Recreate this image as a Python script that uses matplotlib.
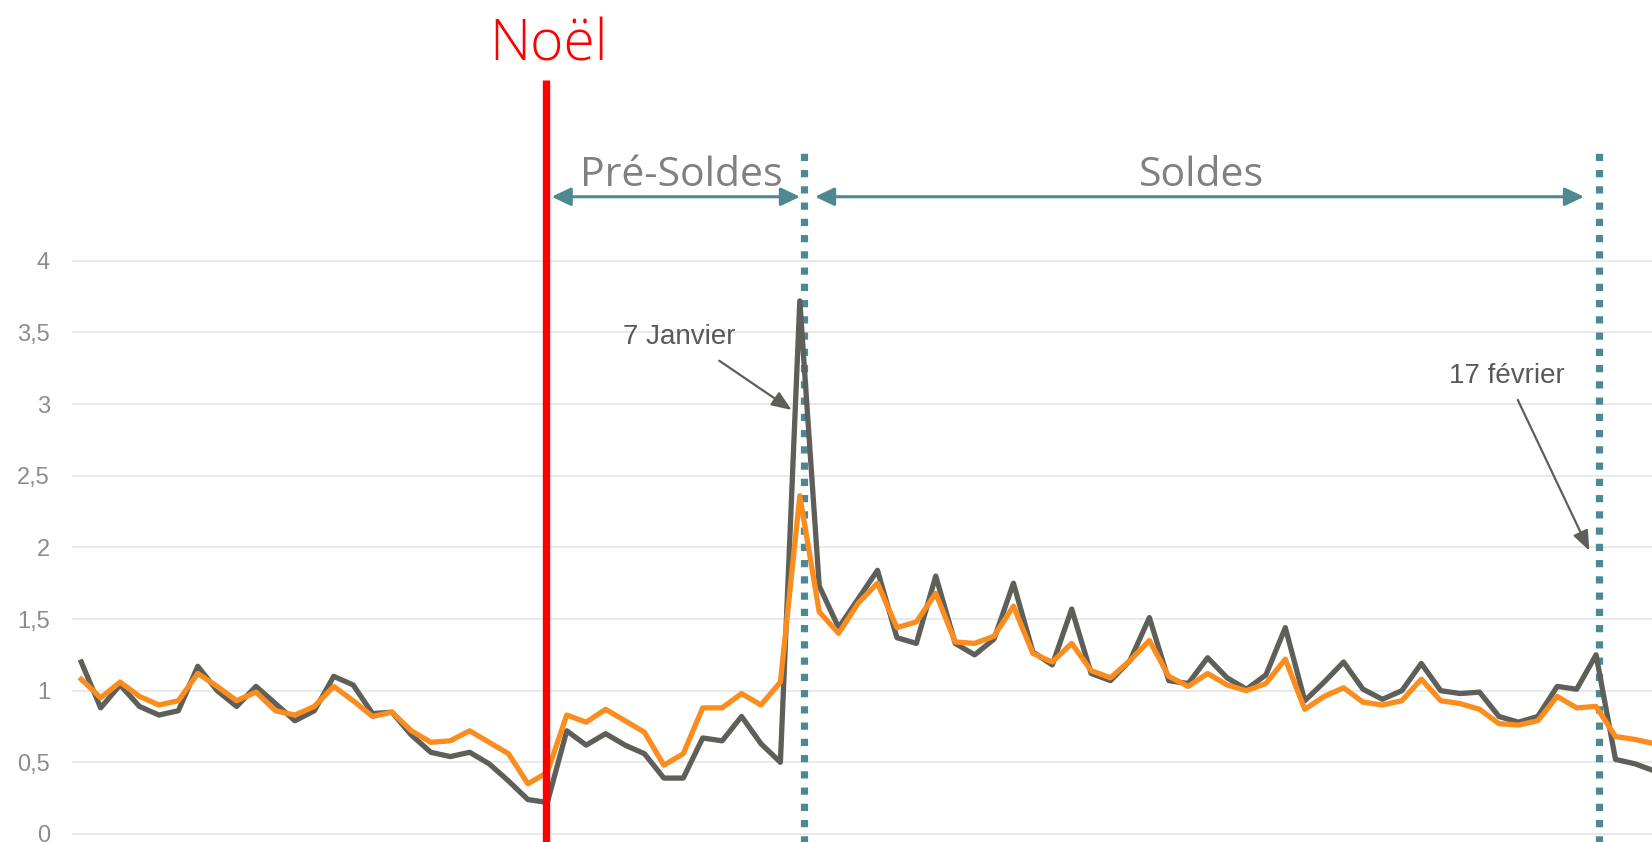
import matplotlib.pyplot as plt
import numpy as np

# Daily index, two series (index 24 = Noël, 37 = 7 janvier, 78 = 17 février)
serie_grise = [
    1.20, 0.88, 1.04, 0.89, 0.83, 0.86, 1.17, 1.00, 0.89, 1.03,
    0.91, 0.79, 0.86, 1.10, 1.04, 0.84, 0.85, 0.69, 0.57, 0.54,
    0.57, 0.49, 0.37, 0.24, 0.22, 0.72, 0.62, 0.70, 0.62, 0.56,
    0.39, 0.39, 0.67, 0.65, 0.82, 0.63, 0.50, 3.72, 1.73, 1.44,
    1.64, 1.84, 1.37, 1.33, 1.80, 1.33, 1.25, 1.36, 1.75, 1.27,
    1.18, 1.57, 1.12, 1.07, 1.21, 1.51, 1.07, 1.05, 1.23, 1.09,
    1.01, 1.11, 1.44, 0.93, 1.06, 1.20, 1.01, 0.94, 1.00, 1.19,
    1.00, 0.98, 0.99, 0.82, 0.78, 0.82, 1.03, 1.01, 1.25, 0.52,
    0.49, 0.44,
]
serie_orange = [
    1.08, 0.95, 1.06, 0.96, 0.90, 0.93, 1.12, 1.03, 0.93, 0.99,
    0.86, 0.83, 0.89, 1.03, 0.93, 0.82, 0.85, 0.72, 0.64, 0.65,
    0.72, 0.64, 0.56, 0.35, 0.43, 0.83, 0.78, 0.87, 0.79, 0.71,
    0.48, 0.56, 0.88, 0.88, 0.98, 0.90, 1.06, 2.36, 1.55, 1.40,
    1.61, 1.75, 1.44, 1.48, 1.68, 1.34, 1.33, 1.38, 1.59, 1.26,
    1.20, 1.33, 1.14, 1.09, 1.21, 1.35, 1.10, 1.03, 1.12, 1.04,
    1.00, 1.05, 1.22, 0.87, 0.96, 1.02, 0.92, 0.90, 0.93, 1.08,
    0.93, 0.91, 0.87, 0.77, 0.76, 0.79, 0.96, 0.88, 0.89, 0.68,
    0.66, 0.63,
]
y_ticks = [0, 0.5, 1, 1.5, 2, 2.5, 3, 3.5, 4]
y_tick_labels = ["0", "0,5", "1", "1,5", "2", "2,5", "3", "3,5", "4"]

# Key dates (position on the day axis)
jour_noel = 23.95
jour_debut_soldes = 37.2
jour_fin_soldes = 78.17

GRIS = "#5e5f59"
ORANGE = "#fb8d1e"
ROUGE = "#ff0000"
BLEU = "#4d8990"

fig = plt.figure(figsize=(16.52, 8.42), dpi=100)
ax = fig.add_axes([0.0433, 0.0, 0.9567, 1.0])

x = np.arange(len(serie_grise))

# period markers behind the data
for jour in (jour_debut_soldes, jour_fin_soldes):
    ax.plot([jour, jour], [-0.06, 4.76], color=BLEU, lw=5.2,
            dashes=(1.0, 1.25), solid_capstyle="butt", dash_capstyle="butt",
            zorder=1)

ax.plot(x, serie_grise, color=GRIS, lw=3.8, zorder=3)
ax.plot(x, serie_orange, color=ORANGE, lw=3.8, zorder=4)

# Christmas
ax.plot([jour_noel, jour_noel], [-0.06, 5.265], color=ROUGE, lw=5.3,
        solid_capstyle="butt", zorder=5)
ax.text(jour_noel + 0.1, 5.395, "Noël", color=ROUGE, fontsize=41,
        family="Open Sans", weight="light", ha="center", va="baseline")

# pre-sales / sales spans
fleche = dict(arrowstyle="<|-|>,head_length=0.4,head_width=0.19",
              mutation_scale=29, color=BLEU, lw=2.2,
              shrinkA=0, shrinkB=0)
ax.annotate("", xy=(24.22, 4.447), xytext=(37.01, 4.447), arrowprops=fleche)
ax.annotate("", xy=(37.78, 4.447), xytext=(77.38, 4.447), arrowprops=fleche)
ax.text(30.92, 4.524, "Pré-Soldes", color="#808080", fontsize=29.5,
        family="Open Sans", ha="center", va="baseline")
ax.text(57.66, 4.524, "Soldes", color="#808080", fontsize=29.5,
        family="Open Sans", ha="center", va="baseline")

# date callouts
pointe = dict(arrowstyle="-|>,head_length=0.55,head_width=0.22",
              mutation_scale=22, color=GRIS, lw=1.6, shrinkA=0, shrinkB=0)
ax.annotate("", xy=(36.58, 2.959), xytext=(32.85, 3.303), arrowprops=pointe)
ax.annotate("", xy=(77.65, 1.977), xytext=(73.97, 3.029), arrowprops=pointe)
ax.text(27.88, 3.419, "7 Janvier", color="#595959", fontsize=20,
        family="Liberation Sans", ha="left", va="baseline")
ax.text(70.44, 3.145, "17 février", color="#595959", fontsize=20,
        family="Liberation Sans", ha="left", va="baseline")

ax.set_xlim(-0.5, 80.88)
ax.set_ylim(-0.056, 5.82)
ax.set_yticks(y_ticks)
ax.set_yticklabels(y_tick_labels, family="Liberation Sans", fontsize=17,
                   color="#8c8c8c")
ax.set_xticks([])
ax.tick_params(axis="y", length=0, pad=15.5)
ax.grid(axis="y", color="#e3e3e3", lw=1.1, zorder=0)
ax.set_axisbelow(True)
for spine in ax.spines.values():
    spine.set_visible(False)

fig.savefig("out.png", dpi=100)
